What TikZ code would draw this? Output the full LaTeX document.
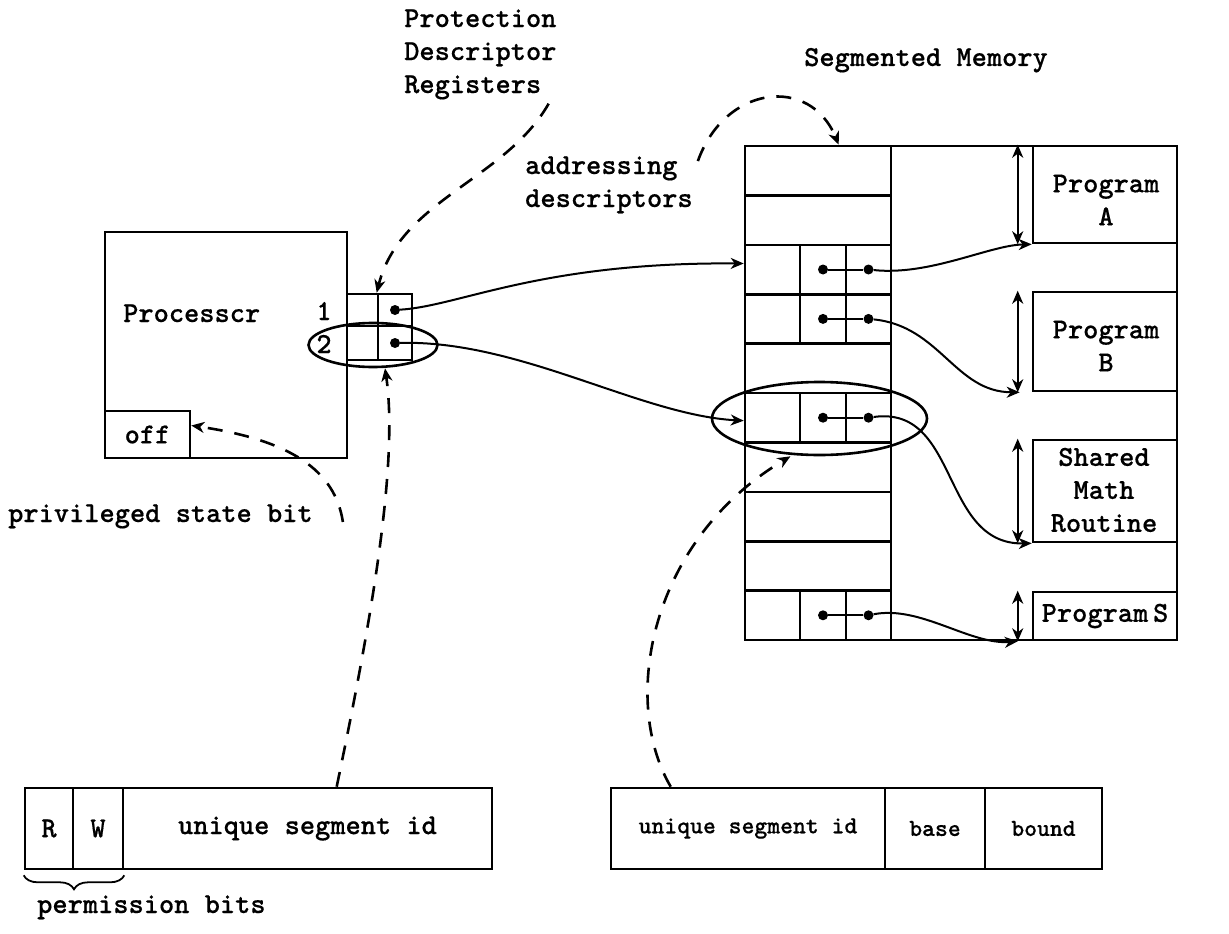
\documentclass[tikz,border=0pt]{standalone}
\usepackage{fontspec}
\setmonofont{lmmonolt10-bold.otf}[FakeBold=0.4]
\usetikzlibrary{arrows.meta,shapes.geometric,fit,decorations.pathreplacing}

% typewriter faces used for all labels
\newcommand\tw{\ttfamily\fontsize{29}{33}\selectfont}
\newcommand\tws{\ttfamily\fontsize{24.5}{28}\selectfont}

\begin{document}
\begin{tikzpicture}[x=1pt,y=-1pt,
  box/.style={draw, line width=2.6pt, inner sep=0pt},
  txt/.style={font=\tw, inner sep=0pt},
  ring/.style={draw, ellipse, line width=2.6pt, inner sep=0pt},
  dot/.style={circle, fill, inner sep=0pt, minimum size=10pt},
  wire/.style={line width=2pt},
  tip/.tip={Stealth[length=13pt, width=11pt, inset=4pt]},
  link/.style={line width=2pt, -tip},
  dlink/.style={line width=2.6pt, dash pattern=on 15pt off 12pt, -tip},
  span/.style={line width=2pt, tip-tip},
]
\fill[white] (0,0) rectangle (1229,934);
\useasboundingbox (0,0) rectangle (1229,934);

% ---------- processor ----------
\node[box, fit={(105,232) (347,458)}] (proc) {};
\node[txt, anchor=base west] (procname) at (123,322) {Processcr};
\node[box, fit={(105,411) (190,458)}] (off) {};
\node[txt] (offtxt) at (off.center) {off};
\node[txt, anchor=base] (one) at (324,320) {1};
\node[txt, anchor=base] (two) at (324,353) {2};

% protection descriptor registers
\node[box, fit={(347,294) (378,326)}] (r1a) {};
\node[box, fit={(378,294) (412,326)}] (r1b) {};
\node[box, fit={(347,326) (378,360)}] (r2a) {};
\node[box, fit={(378,326) (412,360)}] (r2b) {};
\node[dot] (d1) at (r1b.center) {};
\node[dot] (d2) at (r2b.center) {};
\node[ring, minimum width=129pt, minimum height=44pt] (ring2) at (373,345) {};

% ---------- segmented memory ----------
\node[box, fit={(745,146) (1177,640)}] (mem) {};
\foreach \i in {1,...,10}
  \node[box, minimum width=146pt, minimum height=49.4pt] (row\i) at (818,{146+49.4*(\i-0.5)}) {};
\foreach \i in {3,4,6,10} {
  \node[box, minimum width=46pt, minimum height=49.4pt] (fb\i) at (823,{146+49.4*(\i-0.5)}) {};
  \node[box, minimum width=45pt, minimum height=49.4pt] (fc\i) at (868.5,{146+49.4*(\i-0.5)}) {};
  \node[dot] (db\i) at (fb\i.center) {};
  \node[dot] (dc\i) at (fc\i.center) {};
  \draw[wire] (db\i) -- (dc\i);
}
\node[ring, minimum width=215pt, minimum height=73pt] (ring6) at (819.5,418.5) {};

% segments held in memory
\node[box, fit={(1033,146) (1177,243)}] (progA) {};
\node[box, fit={(1033,292) (1177,391)}] (progB) {};
\node[box, fit={(1033,440) (1177,542)}] (progM) {};
\node[box, fit={(1033,592) (1177,640)}] (progS) {};
\node[txt, align=center] (tA) at (1106,200) {Program\\A};
\node[txt, align=center] (tB) at (1106,346) {Program\\B};
\node[txt, align=center] (tM) at (1104,490) {Shared\\Math\\Routine};
\node[txt] (tS) at (1105,616) {Program\,S};
\foreach \p in {progA,progB,progM,progS}
  \draw[span] ([xshift=-14pt]\p.north west) -- ([xshift=-14pt]\p.south west);

% ---------- labels ----------
\node[txt, anchor=base west, align=left] (pdr) at (404,93) {Protection\\Descriptor\\Registers};
\node[txt, anchor=base west] (segmem) at (804,66) {Segmented Memory};
\node[txt, anchor=base west, align=left] (addr) at (525,207) {addressing\\descriptors};
\node[txt, anchor=base west] (priv) at (8,522) {privileged state bit};

% ---------- descriptor formats ----------
\node[box, fit={(25,788) (73,869)}] (fR) {};
\node[box, fit={(73,788) (123,869)}] (fW) {};
\node[box, fit={(123,788) (492,869)}] (fid) {};
\node[box, fit={(25,788) (492,869)}] (lbox) {};
\node[txt] at (fR.center) {R};
\node[txt] at (fW.center) {W};
\node[txt] at (fid.center) {unique segment id};
\draw[decorate, decoration={brace, amplitude=14pt}, line width=1.8pt]
  ([yshift=-5pt]fW.south east) -- ([yshift=-5pt]fR.south west);
\node[txt, anchor=base west] (perm) at (37,913) {permission bits};

\node[box, fit={(611,788) (885,869)}] (gid) {};
\node[box, fit={(885,788) (985,869)}] (gbase) {};
\node[box, fit={(985,788) (1102,869)}] (gbound) {};
\node[box, fit={(611,788) (1102,869)}] (rbox) {};
\node[txt, font=\tws] at (gid.center) {unique segment id};
\node[txt, font=\tws] at (gbase.center) {base};
\node[txt, font=\tws] at (gbound.center) {bound};

% ---------- connectors ----------
\draw[link] (d1) .. controls (460,306) and (540,262) .. ([yshift=6pt]row3.west);
\draw[link] (d2) .. controls (520,340) and (640,415) .. ([yshift=-3pt]row6.west);
\draw[link] (dc3) .. controls (930,276) and (990,245) .. (progA.south west);
\draw[link] (dc4) .. controls (940,326) and (955,392) .. ([xshift=-12pt]progB.south west);
\draw[link] (dc6) .. controls (960,405) and (940,545) .. (progM.south west);
\draw[link] (dc10) .. controls (920,605) and (970,645) .. ([xshift=-14pt]progS.south west);

\draw[dlink] ([xshift=-8pt,yshift=-4pt]pdr.south east) .. controls (505,180) and (400,200) .. (r1b.north west);
\draw[dlink] ([xshift=5pt,yshift=-5pt]addr.north east) .. controls (725,85) and (810,75) .. ([xshift=95pt]mem.north west);
\draw[dlink] ([xshift=30pt]priv.base east) .. controls (335,470) and (290,440) .. ([yshift=9pt]off.east);
\draw[dlink] ([xshift=313pt]lbox.north west) .. controls (365,650) and (400,470) .. ([xshift=12pt]ring2.south);
\draw[dlink] ([xshift=61pt]rbox.north west) .. controls (620,700) and (650,540) .. ([xshift=-29pt]ring6.south);
\end{tikzpicture}
\end{document}
